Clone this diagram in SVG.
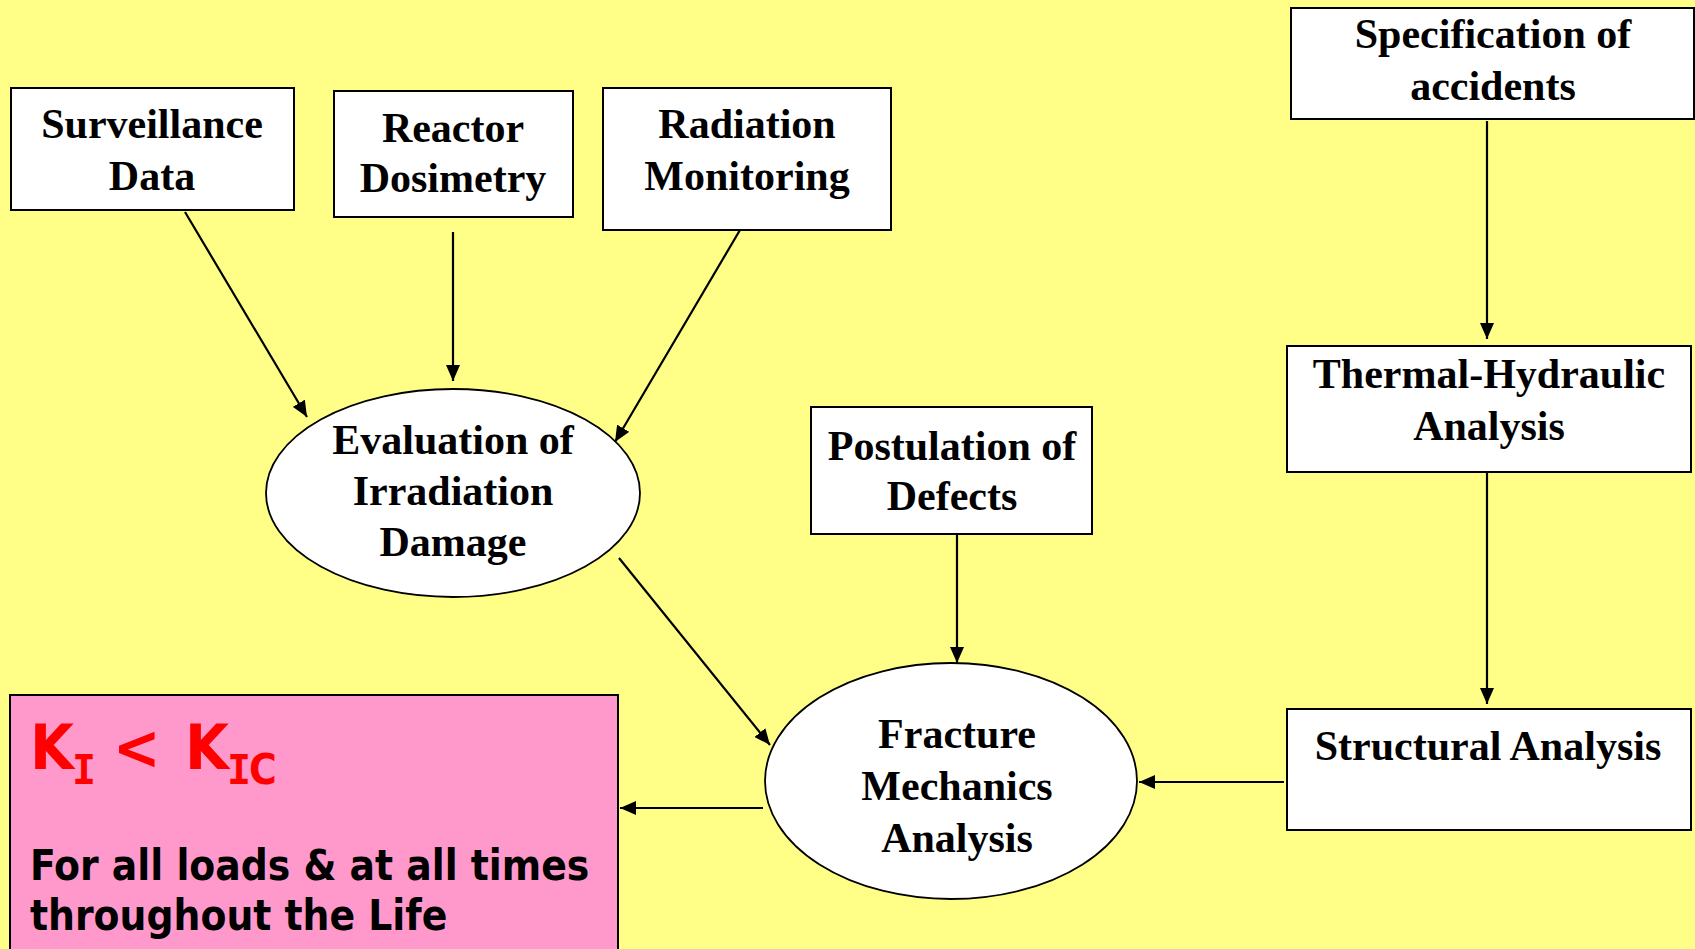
<svg xmlns="http://www.w3.org/2000/svg" width="1695" height="949" viewBox="0 0 1695 949">
<defs>
<style>
.box{fill:#ffffff;stroke:#000;stroke-width:2}
.ell{fill:#ffffff;stroke:#000;stroke-width:1.8}
.lbl{font-family:"Liberation Serif","Times New Roman",serif;font-weight:bold;font-size:42px;fill:#000;text-anchor:middle}
.con{stroke:#000;stroke-width:2.2;fill:none;marker-end:url(#ah)}
.k{font-family:"DejaVu Sans Condensed","DejaVu Sans",sans-serif;font-weight:bold;fill:#ff0000}
.ki{font-family:"DejaVu Sans Mono",monospace;font-weight:bold;fill:#ff0000;font-size:40px}
.note{font-family:"DejaVu Sans Condensed","DejaVu Sans",sans-serif;font-weight:bold;font-size:42px;fill:#000}
</style>
<marker id="ah" viewBox="0 0 16 14" refX="16" refY="7" markerWidth="16" markerHeight="14" markerUnits="userSpaceOnUse" orient="auto">
<path d="M0,0 L16,7 L0,14 Z" fill="#000"/>
</marker>
</defs>
<rect x="0" y="0" width="1695" height="949" fill="#ffff88"/>

<g id="connectors">
<line class="con" x1="185" y1="212" x2="307" y2="417"/>
<line class="con" x1="453" y1="232" x2="453" y2="381"/>
<line class="con" x1="740" y1="230" x2="615" y2="442"/>
<line class="con" x1="1487" y1="121" x2="1487" y2="339"/>
<line class="con" x1="1487" y1="472" x2="1487" y2="704"/>
<line class="con" x1="957" y1="529" x2="957" y2="663"/>
<line class="con" x1="619" y1="558" x2="770" y2="745"/>
<line class="con" x1="1284" y1="782" x2="1139" y2="782"/>
<line class="con" x1="763" y1="808" x2="620" y2="808"/>
</g>

<g id="surveillance">
<rect class="box" x="11" y="88" width="283" height="122"/>
<text class="lbl" x="152" y="138">Surveillance</text>
<text class="lbl" x="152" y="190">Data</text>
</g>

<g id="reactor">
<rect class="box" x="334" y="91" width="239" height="126"/>
<text class="lbl" x="453" y="142">Reactor</text>
<text class="lbl" x="453" y="192">Dosimetry</text>
</g>

<g id="radiation">
<rect class="box" x="603" y="88" width="288" height="142"/>
<text class="lbl" x="747" y="138">Radiation</text>
<text class="lbl" x="747" y="190">Monitoring</text>
</g>

<g id="specification">
<rect class="box" x="1291" y="8" width="403" height="111"/>
<text class="lbl" x="1493" y="48">Specification of</text>
<text class="lbl" x="1493" y="100">accidents</text>
</g>

<g id="thermal">
<rect class="box" x="1287" y="346" width="404" height="126"/>
<text class="lbl" x="1489" y="388">Thermal-Hydraulic</text>
<text class="lbl" x="1489" y="440">Analysis</text>
</g>

<g id="structural">
<rect class="box" x="1287" y="709" width="404" height="121"/>
<text class="lbl" x="1488" y="760">Structural Analysis</text>
</g>

<g id="postulation">
<rect class="box" x="811" y="407" width="281" height="127"/>
<text class="lbl" x="952" y="460">Postulation of</text>
<text class="lbl" x="952" y="510">Defects</text>
</g>

<g id="evaluation">
<ellipse class="ell" cx="453" cy="493" rx="187" ry="104"/>
<text class="lbl" x="453" y="454">Evaluation of</text>
<text class="lbl" x="453" y="505">Irradiation</text>
<text class="lbl" x="453" y="556">Damage</text>
</g>

<g id="fracture">
<ellipse class="ell" cx="951" cy="781" rx="186" ry="118"/>
<text class="lbl" x="957" y="748">Fracture</text>
<text class="lbl" x="957" y="800">Mechanics</text>
<text class="lbl" x="957" y="852">Analysis</text>
</g>

<g id="criterion">
<rect x="10" y="695" width="608" height="270" fill="#ff99cc" stroke="#000" stroke-width="2"/>
<text class="k" x="30" y="769" font-size="63">K</text>
<text class="ki" x="72" y="784">I</text>
<text class="k" x="113" y="769" font-size="63">&lt;</text>
<text class="k" x="185" y="769" font-size="63">K</text>
<text class="ki" x="227" y="784">I</text>
<text class="k" x="249" y="784" font-size="42">C</text>
<text class="note" x="30" y="880">For all loads &amp; at all times</text>
<text class="note" x="30" y="930">throughout the Life</text>
</g>
</svg>
